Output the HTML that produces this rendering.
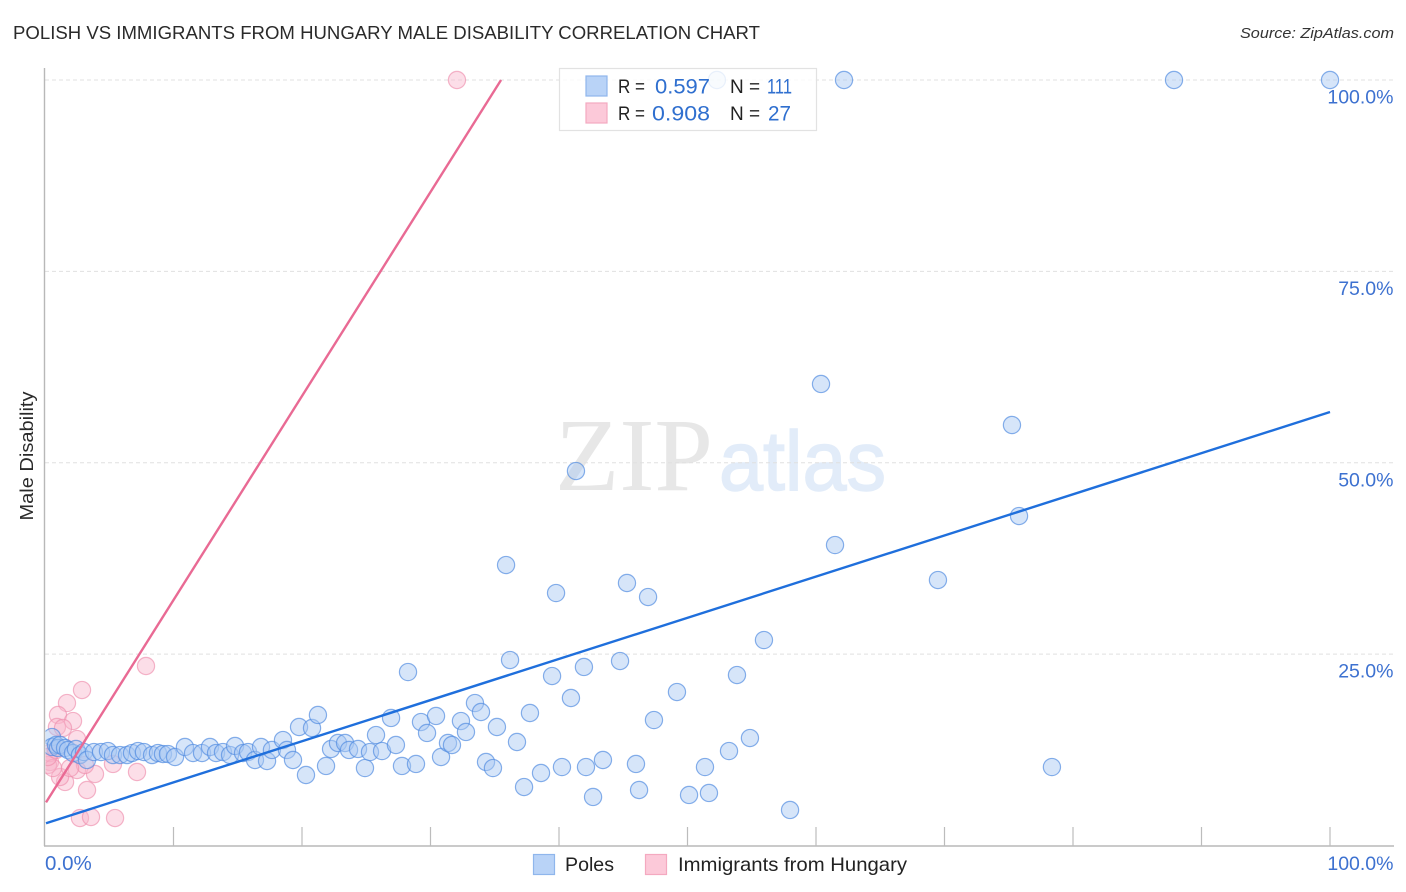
<!DOCTYPE html>
<html lang="en">
<head>
<meta charset="utf-8">
<title>Polish vs Immigrants from Hungary Male Disability Correlation Chart</title>
<style>
html,body{margin:0;padding:0;background:#fff;}
svg{display:block;font-family:"Liberation Sans",sans-serif;}
</style>
</head>
<body>
<svg id="chart" xmlns="http://www.w3.org/2000/svg" width="1406" height="892" viewBox="0 0 1406 892">
  <defs><clipPath id="plot-clip"><rect x="45.5" y="60" width="1360" height="786"/></clipPath></defs>
  <rect width="1406" height="892" fill="#fff"/>
  <text x="13" y="39" font-size="18.5" fill="#2a2a2a" textLength="747" lengthAdjust="spacingAndGlyphs">POLISH VS IMMIGRANTS FROM HUNGARY MALE DISABILITY CORRELATION CHART</text>
  <text x="1394" y="38" font-size="15" font-style="italic" fill="#333" text-anchor="end" textLength="154" lengthAdjust="spacingAndGlyphs">Source: ZipAtlas.com</text>
  <g>
    <text x="555" y="490" font-family="'Liberation Serif',serif" font-size="104" fill="#e7e7e7" textLength="158" lengthAdjust="spacingAndGlyphs">ZIP</text>
    <text x="719" y="490" font-size="84" fill="#e2ecf9" stroke="#e2ecf9" stroke-width="1.5" textLength="167" lengthAdjust="spacingAndGlyphs">atlas</text>
  </g>
  <g id="grid"></g>
  <g id="axes"></g>
  <g id="marks" clip-path="url(#plot-clip)"></g>
  <g id="trends"></g>
  <text transform="translate(33,456) rotate(-90)" font-size="18.5" fill="#2a2a2a" text-anchor="middle" textLength="129" lengthAdjust="spacingAndGlyphs">Male Disability</text>
  <g>
    <rect x="559.5" y="68.5" width="257" height="62" fill="#fff" fill-opacity="0.82" stroke="#e2e2e2" stroke-width="1.2"/>
    <rect x="586" y="76" width="21" height="20" fill="#b9d3f7" stroke="#8fb6ec" stroke-width="1.2"/>
    <rect x="586" y="103" width="21" height="20" fill="#fcc9d9" stroke="#f4a9c0" stroke-width="1.2"/>
    <text x="618" y="93" font-size="19" fill="#222" textLength="27" lengthAdjust="spacingAndGlyphs">R =</text>
    <text x="655" y="93.5" font-size="21" fill="#2f6fcf" textLength="55" lengthAdjust="spacingAndGlyphs">0.597</text>
    <text x="730" y="93" font-size="19" fill="#222">N =</text>
    <text x="767" y="93.5" font-size="21" fill="#2f6fcf" textLength="25" lengthAdjust="spacingAndGlyphs">111</text>
    <text x="618" y="120" font-size="19" fill="#222" textLength="27" lengthAdjust="spacingAndGlyphs">R =</text>
    <text x="652" y="120.5" font-size="21" fill="#2f6fcf" textLength="58" lengthAdjust="spacingAndGlyphs">0.908</text>
    <text x="730" y="120" font-size="19" fill="#222">N =</text>
    <text x="768" y="120.5" font-size="21" fill="#2f6fcf" textLength="23" lengthAdjust="spacingAndGlyphs">27</text>
  </g>
  <g>
    <rect x="533.5" y="854.5" width="21" height="20" fill="#b9d3f7" stroke="#8fb6ec" stroke-width="1.2"/>
    <text x="565" y="871" font-size="19.5" fill="#222" textLength="49" lengthAdjust="spacingAndGlyphs">Poles</text>
    <rect x="645.5" y="854.5" width="21" height="20" fill="#fcc9d9" stroke="#f4a9c0" stroke-width="1.2"/>
    <text x="678" y="871" font-size="19.5" fill="#222" textLength="229" lengthAdjust="spacingAndGlyphs">Immigrants from Hungary</text>
  </g>
</svg>
<script>
const polesX = [0.54,0.54,0.86,1.01,1.17,1.56,1.79,2.18,2.41,2.72,3.03,3.27,3.81,4.36,4.90,5.29,5.84,6.38,6.77,7.24,7.70,8.33,8.79,9.18,9.57,10.12,10.89,11.52,12.22,12.84,13.31,13.85,14.40,14.79,15.41,15.80,16.34,16.81,17.28,17.66,18.52,18.83,19.30,19.77,20.78,21.24,20.31,21.87,22.26,22.80,23.35,23.66,24.36,24.90,25.29,25.76,26.23,27.31,26.93,27.78,28.87,28.25,29.26,29.73,30.43,30.82,31.36,31.67,32.37,32.76,33.46,33.93,35.17,34.32,34.86,36.19,36.73,37.74,37.28,38.60,39.46,40.23,40.93,41.94,42.10,42.65,43.42,44.75,45.99,46.23,47.39,49.18,50.12,51.36,51.67,53.23,53.85,54.86,55.95,57.98,78.36,69.49,61.48,75.80,75.25,60.39,41.32,35.88,39.77,45.29,46.93,52.29,62.18,87.86,100];
const polesY = [14.17,12.87,13.13,12.74,13.13,12.74,12.48,12.08,12.61,11.82,12.21,11.17,12.21,12.21,12.34,11.82,11.82,11.82,12.08,12.34,12.21,11.82,12.08,11.95,11.95,11.56,12.87,12.08,12.08,12.87,12.08,12.21,11.82,13.00,12.08,12.21,11.17,12.87,11.04,12.48,13.78,12.48,11.17,15.48,15.35,17.05,9.21,10.39,12.61,13.39,13.39,12.48,12.61,10.12,12.21,14.43,12.34,13.13,16.66,10.39,10.65,22.66,16.13,14.70,16.92,11.56,13.39,13.13,16.26,14.83,18.61,17.44,15.48,10.91,10.12,24.23,13.52,17.31,7.64,9.47,22.14,10.25,19.27,23.32,10.25,6.34,11.17,24.10,10.65,7.25,16.39,20.05,6.60,10.25,6.86,12.34,22.27,14.04,26.84,4.64,10.25,34.68,39.25,43.04,54.93,60.29,48.92,36.64,32.98,34.29,32.46,100,100,100,100];
const hungaryX = [7.86,2.88,1.71,1.01,2.18,0.93,1.40,2.49,3.89,3.27,7.16,5.29,2.72,3.58,5.45,1.56,1.17,2.49,3.11,32.06,0.39,0.23,0.39,0.62,0.23,1.95,0.86];
const hungaryY = [23.45,20.31,18.61,17.05,16.26,15.48,15.35,13.91,9.34,7.25,9.60,10.65,3.59,3.72,3.59,8.30,8.95,9.86,10.52,100,10.91,10.52,12.08,10.12,11.56,10.12,12.48];
const polesTrendX = [0.08,100];
const polesTrendY = [2.91,56.63];
const hungaryTrendX = [0.08,35.49];
const hungaryTrendY = [5.63,100];
const yTickValues = [25,50,75,100];
const yTickLabels = ["25.0%","50.0%","75.0%","100.0%"];
const xTickValues = [10,20,30,40,50,60,70,80,90,100];
const xEndValues = [0,100];
const xEndLabels = ["0.0%","100.0%"];

const NS = 'http://www.w3.org/2000/svg';
const xScale = v => 45 + v * 12.85;
const yScale = v => 845.5 - v * 7.655;
function make(tag, attrs, parent) {
  const el = document.createElementNS(NS, tag);
  for (const k in attrs) el.setAttribute(k, attrs[k]);
  parent.appendChild(el);
  return el;
}
const grid = document.getElementById('grid');
const axes = document.getElementById('axes');
const marks = document.getElementById('marks');
const trends = document.getElementById('trends');

yTickValues.forEach((v, i) => {
  const line = make('line', {x1: 45, x2: 1394, y1: yScale(v), y2: yScale(v), stroke: '#e0e0e0', 'stroke-width': 1, 'stroke-dasharray': '4 3'}, grid);
  
  
  const label = make('text', {x: 1393.5, y: yScale(v) + 23.5, 'font-size': 19.5, fill: '#3d71d0', 'text-anchor': 'end'}, axes);
  
  
  label.textContent = yTickLabels[i];
});
const yAxis = make('line', {x1: 44.5, x2: 44.5, y1: 68, y2: 846, stroke: '#b8b8b8', 'stroke-width': 1.4}, axes);


const xAxis = make('line', {x1: 44, x2: 1394, y1: 846, y2: 846, stroke: '#b8b8b8', 'stroke-width': 1.4}, axes);


xTickValues.forEach(v => {
  const tick = make('line', {x1: xScale(v), x2: xScale(v), y1: 827, y2: 846, stroke: '#bcbcbc', 'stroke-width': 1.2}, axes);
  
  
});
xEndValues.forEach((v, i) => {
  const label = make('text', {x: i === 0 ? xScale(v) : 1393.5, y: 870, 'font-size': i === 0 ? 20.5 : 19.5, fill: '#3d71d0', 'text-anchor': i === 0 ? 'start' : 'end'}, axes);
  
  
  label.textContent = xEndLabels[i];
});
hungaryX.forEach((v, i) => {
  const c = make('circle', {cx: xScale(v), cy: yScale(hungaryY[i]), r: 8.6, fill: '#f9b6cc', 'fill-opacity': 0.45, stroke: '#ee8fae', 'stroke-opacity': 0.65, 'stroke-width': 1.2}, marks);
  
  
});
polesX.forEach((v, i) => {
  const c = make('circle', {cx: xScale(v), cy: yScale(polesY[i]), r: 8.6, fill: '#a9c9f3', 'fill-opacity': 0.48, stroke: '#4f8ae0', 'stroke-opacity': 0.68, 'stroke-width': 1.2}, marks);
  
  
});
const trendPoles = make('line', {x1: xScale(polesTrendX[0]), y1: yScale(polesTrendY[0]), x2: xScale(polesTrendX[1]), y2: yScale(polesTrendY[1]), stroke: '#1f6fdc', 'stroke-width': 2.4}, trends);


const trendHungary = make('line', {x1: xScale(hungaryTrendX[0]), y1: yScale(hungaryTrendY[0]), x2: xScale(hungaryTrendX[1]), y2: yScale(hungaryTrendY[1]), stroke: '#e96a94', 'stroke-width': 2.4}, trends);


</script>
</body>
</html>
